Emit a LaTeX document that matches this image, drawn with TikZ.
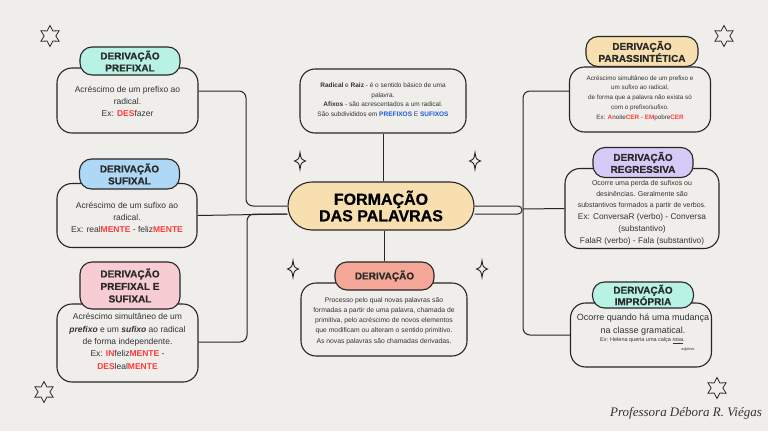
\documentclass[tikz,border=0pt]{standalone}
\usepackage{fontspec}
\newfontfamily\lib{Liberation Sans}
\newfontfamily\heavy{Liberation Sans}[BoldFeatures={FakeBold=0.8}]
\newfontfamily\sigfont{Liberation Serif}
\usetikzlibrary{shapes.geometric,calc}
\definecolor{bgc}{HTML}{EFEEEA}
\definecolor{linec}{HTML}{262626}
\definecolor{mint}{HTML}{B8F2E4}
\definecolor{skyb}{HTML}{AED8F6}
\definecolor{pinkc}{HTML}{F7CDD3}
\definecolor{tanc}{HTML}{F7DFB0}
\definecolor{salmon}{HTML}{F5A797}
\definecolor{lav}{HTML}{D5CBF6}
\definecolor{ttxt}{HTML}{2A2A2A}
\definecolor{btxt}{HTML}{333333}
\definecolor{redc}{HTML}{FF3B3B}
\definecolor{bluec}{HTML}{1F5BD6}
\definecolor{sigc}{HTML}{333333}
\newcommand{\hl}[1]{\textcolor{redc}{\bfseries #1}}
\newcommand{\hb}[1]{\textcolor{bluec}{\bfseries #1}}
\pgfdeclarelayer{bglayer}
\pgfdeclarelayer{connlayer}
\pgfsetlayers{bglayer,connlayer,main}
\begin{document}
\begin{tikzpicture}[x=1pt,y=-1pt,
  ln/.style={draw=linec,line width=1.1pt},
  body/.style={ln,fill=bgc,rounded corners=15pt,inner sep=0pt},
  ttl/.style={ln,rounded corners=12pt,align=center,inner sep=0pt,text=ttxt,font=\heavy\bfseries\fontsize{10}{12}\selectfont},
  txt/.style={align=center,text=btxt,inner sep=0pt},
  conn/.style={draw=linec,line width=1pt,rounded corners=7pt},
  starn/.style={star,star points=6,star point ratio=1.8,draw=linec,line width=0.8pt,minimum size=21pt,inner sep=0pt},
  spark/.style={draw=linec,line width=0.9pt}
]
\begin{pgfonlayer}{bglayer}
\fill[bgc] (0,0) rectangle (768,431);
\end{pgfonlayer}
\useasboundingbox (0,0) rectangle (768,431);

% ---- left column
\node[body,minimum width=141pt,minimum height=65pt] (pbody) at (127.5,100.5) {};
\node[ttl,fill=mint,minimum width=100pt,minimum height=28pt] (ptitle) at (130,61) {DERIVAÇÃO\\PREFIXAL};
\node[txt,font=\lib\fontsize{8.5}{12}\selectfont] (ptxt) at (127.5,101.5) {Acréscimo de um prefixo ao\\radical.\\Ex: \hl{DES}fazer};

\node[body,minimum width=140pt,minimum height=64pt] (sbody) at (127,215.5) {};
\node[ttl,fill=skyb,minimum width=100pt,minimum height=30pt] (stitle) at (129.5,174) {DERIVAÇÃO\\SUFIXAL};
\node[txt,font=\lib\fontsize{8.5}{12}\selectfont] (stxt) at (127,217) {Acréscimo de um sufixo ao\\radical.\\Ex: real\hl{MENTE} - feliz\hl{MENTE}};

\node[body,minimum width=141pt,minimum height=78pt] (psbody) at (127.5,343) {};
\node[ttl,fill=pinkc,minimum width=100pt,minimum height=47pt,font=\heavy\bfseries\fontsize{10}{12.5}\selectfont] (pstitle) at (130,285.5) {DERIVAÇÃO\\PREFIXAL E\\SUFIXAL};
\node[txt,font=\lib\fontsize{8.5}{12.3}\selectfont] (pstxt) at (127.5,341.5) {Acréscimo simultâneo de um\\\textbf{\textit{prefixo}} e um \textbf{\textit{sufixo}} ao radical\\de forma independente.\\Ex: \hl{IN}feliz\hl{MENTE} -\\\hl{DES}leal\hl{MENTE}};

% ---- centre column
\node[body,minimum width=166pt,minimum height=64pt] (radical) at (383,101) {};
\node[txt,font=\lib\fontsize{6.5}{9.5}\selectfont] (radtxt) at (383,99.5) {\textbf{Radical} e \textbf{Raiz} - é o sentido básico de uma\\palavra.\\\textbf{Afixos} - são acrescentados a um radical.\\São subdivididos em \hb{PREFIXOS} E \hb{SUFIXOS}};

\node[ln,fill=tanc,rounded corners=24pt,minimum width=186pt,minimum height=48pt,inner sep=0pt,align=center,text=black,font=\heavy\bfseries\fontsize{16}{16.5}\selectfont] (center) at (381,206) {FORMAÇÃO\\DAS PALAVRAS};

\node[body,minimum width=166pt,minimum height=73pt] (dbody) at (384,319.5) {};
\node[ttl,fill=salmon,minimum width=99pt,minimum height=28pt] (dtitle) at (384.5,276) {DERIVAÇÃO};
\node[txt,font=\lib\fontsize{6.8}{10.2}\selectfont] (dtxt) at (384,321) {Processo pelo qual novas palavras são\\formadas a partir de uma palavra, chamada de\\primitiva, pelo acréscimo de novos elementos\\que modificam ou alteram o sentido primitivo.\\As novas palavras são chamadas derivadas.};

% ---- right column
\node[body,minimum width=141pt,minimum height=65pt] (parabody) at (640,99.5) {};
\node[ttl,fill=tanc,minimum width=112pt,minimum height=30pt] (paratitle) at (642,51.5) {DERIVAÇÃO\\PARASSINTÉTICA};
\node[txt,font=\lib\fontsize{6.3}{9.75}\selectfont] (paratxt) at (640,98) {Acréscimo simultâneo de um prefixo e\\um sufixo ao radical,\\de forma que a palavra não exista só\\com o prefixo/sufixo.\\Ex: \hl{A}noite\hl{CER} - \hl{EM}pobre\hl{CER}};

\node[body,minimum width=154pt,minimum height=80pt] (regbody) at (642,208.5) {};
\node[ttl,fill=lav,minimum width=100pt,minimum height=30pt] (regtitle) at (643,162.5) {DERIVAÇÃO\\REGRESSIVA};
\node[txt,font=\lib\fontsize{7}{11}\selectfont] (regA) at (642,195) {Ocorre uma perda de sufixos ou\\desinências. Geralmente são\\substantivos formados a partir de verbos.};
\node[txt,font=\lib\fontsize{8.3}{12}\selectfont] (regB) at (642,229.5) {Ex: ConversaR (verbo) - Conversa\\(substantivo)\\FalaR (verbo) - Fala (substantivo)};

\node[body,minimum width=141pt,minimum height=64pt] (impbody) at (641,335) {};
\node[ttl,fill=mint,minimum width=101pt,minimum height=26pt,font=\heavy\bfseries\fontsize{10}{11.5}\selectfont] (imptitle) at (643,295) {DERIVAÇÃO\\IMPRÓPRIA};
\node[txt,font=\lib\fontsize{9}{13}\selectfont] (impA) at (643,324.5) {Ocorre quando há uma mudança\\na classe gramatical.};
\node[txt,font=\lib\fontsize{5.5}{7}\selectfont] (impB) at (642.5,341) {Ex: Helena queria uma calça \underline{rosa}.};
\node[txt,font=\lib\fontsize{3.8}{4.5}\selectfont] (impadj) at (688,350) {adjetivo};

% ---- connectors
\coordinate (rj) at (523,209);
\begin{pgfonlayer}{connlayer}
\draw[conn] ([yshift=9.5pt]pbody.east) -- (246,91) -- (246,206) -- (center.west);
\draw[conn] (sbody.east) -- ([yshift=-8pt]center.west);
\draw[conn] ([yshift=1pt]psbody.east) -- (247,342) -- (247,214) -- ([yshift=-8pt]center.west);
\draw[conn,rounded corners=4pt] (center.east) -- (522,206) -- (522,214) -- ([yshift=-8pt]center.east);
\draw[conn] ([yshift=8.5pt]parabody.west) -- (523,91) -- (523,335) -- (impbody.west);
\draw[conn] (rj) -- (regbody.west);
\draw[conn] (radical.south) -- (radical.south |- center.north);
\draw[conn] (dtitle.north |- center.south) -- (dtitle.north);
\end{pgfonlayer}

% ---- stars and sparkles
\node[starn] (star1) at (50,36) {};
\node[starn] (star2) at (44,392) {};
\node[starn] (star3) at (724,36) {};
\node[starn] (star4) at (717,388) {};
\foreach \p in {(300,161),(475,161),(293,269),(482,269)}
  \draw[spark,shift={\p}] (0,-8.5) .. controls (1,-2) .. (5.5,0) .. controls (1,2) .. (0,8.5) .. controls (-1,2) .. (-5.5,0) .. controls (-1,-2) .. cycle;

% ---- signature
\node[font=\sigfont\itshape\fontsize{13}{15}\selectfont,text=sigc,inner sep=0pt] (sig) at (686,413) {Professora Débora R. Viégas};
\end{tikzpicture}
\end{document}
